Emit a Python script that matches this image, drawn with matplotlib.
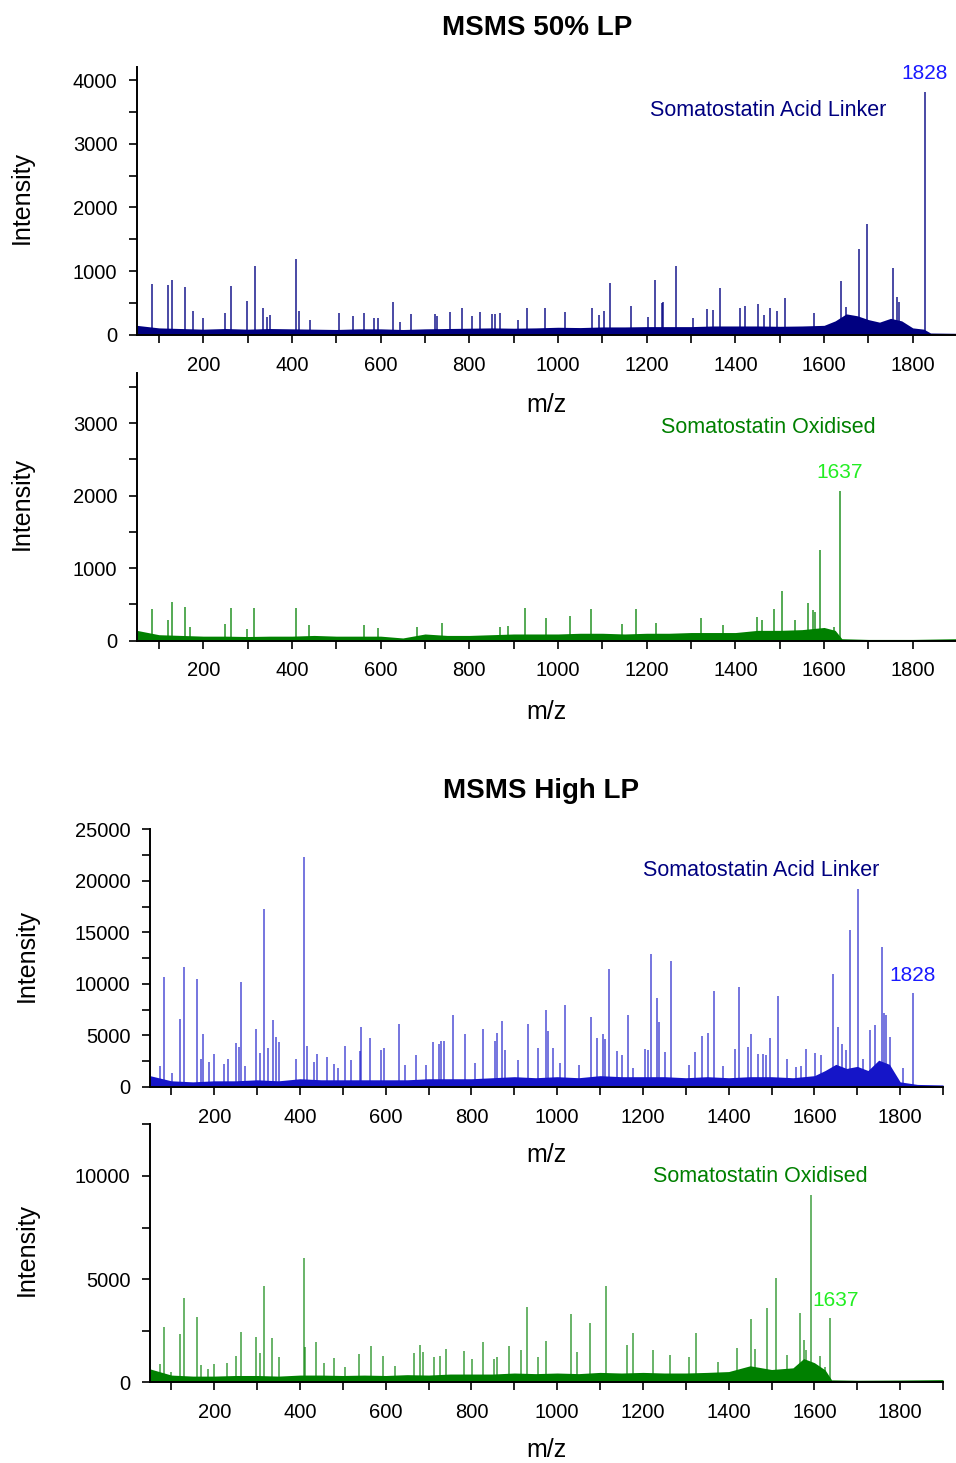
import matplotlib
matplotlib.use('Agg')
import matplotlib.pyplot as plt
from matplotlib.ticker import MultipleLocator

plt.rcParams['font.family'] = ['Liberation Sans', 'DejaVu Sans']

# peaks (m/z, intensity)

# MSMS 50% LP - Somatostatin Acid Linker
lp50_acid_mz = [85, 120, 129, 159, 176, 199, 250, 262, 298, 316, 335, 343, 350, 410, 416, 441,
                506, 538, 563, 586, 595, 628, 644, 668, 722, 727, 756, 784, 806, 823, 850, 858,
                870, 909, 929, 971, 1016, 1076, 1092, 1104, 1117, 1165, 1202, 1218, 1234, 1237,
                1265, 1304, 1337, 1350, 1365, 1410, 1421, 1450, 1464, 1478, 1494, 1512, 1578,
                1639, 1649, 1679, 1697, 1756, 1765, 1768, 1828]
lp50_acid_int = [794, 783, 862, 752, 370, 270, 339, 763, 532, 1077, 422, 281, 307, 1187, 370, 228,
                 339, 292, 339, 270, 270, 511, 207, 334, 323, 297, 354, 418, 302, 354, 323, 334,
                 339, 240, 418, 418, 360, 418, 318, 370, 815, 448, 286, 862, 497, 512,
                 1087, 260, 402, 392, 731, 418, 454, 491, 318, 418, 381, 579, 339,
                 846, 443, 1348, 1741, 1045, 600, 523, 3819]
lp50_acid_noise_mz = [50, 100, 150, 200, 250, 300, 350, 400, 450, 500, 550, 600, 650, 700, 750,
                      800, 850, 900, 950, 1000, 1050, 1100, 1150, 1200, 1250, 1300, 1350, 1400,
                      1450, 1500, 1550, 1600, 1625, 1650, 1675, 1700, 1725, 1750, 1775, 1800,
                      1825, 1840, 1900]
lp50_acid_noise_int = [150, 110, 100, 90, 100, 90, 100, 95, 90, 85, 95, 95, 85, 95, 100,
                       105, 110, 105, 110, 120, 115, 125, 125, 130, 130, 130, 140, 140,
                       140, 135, 140, 150, 220, 330, 300, 240, 200, 260, 220, 110,
                       90, 30, 25]

# MSMS 50% LP - Somatostatin Oxidised
lp50_ox_mz = [85, 120, 129, 159, 171, 250, 262, 298, 315, 409, 439, 563, 595, 681, 739, 869,
              887, 926, 972, 1027, 1074, 1145, 1176, 1221, 1322, 1373, 1449, 1461, 1488, 1506,
              1534, 1563, 1574, 1580, 1591, 1623, 1637]
lp50_ox_int = [431, 283, 532, 463, 180, 228, 444, 155, 444, 453, 214, 214, 168, 190, 246, 190,
               200, 444, 306, 339, 440, 228, 440, 237, 315, 214, 329, 283, 431, 688,
               283, 513, 421, 398, 1250, 190, 2069]
lp50_ox_noise_mz = [50, 100, 150, 200, 250, 300, 350, 400, 450, 500, 550, 600, 650, 700, 750,
                    800, 850, 900, 950, 1000, 1050, 1100, 1150, 1200, 1250, 1300, 1350, 1400,
                    1450, 1500, 1550, 1600, 1625, 1640, 1700, 1800, 1900]
lp50_ox_noise_int = [140, 80, 70, 60, 60, 55, 60, 60, 70, 60, 60, 60, 35, 90, 70,
                     70, 80, 90, 90, 90, 100, 100, 90, 100, 100, 110, 110, 110,
                     140, 140, 150, 180, 140, 25, 15, 15, 25]

# MSMS High LP - Somatostatin Acid Linker
high_acid_mz = [74, 84, 101, 120, 129, 159, 170, 175, 187, 199, 222, 233, 250, 258, 262, 271,
                297, 306, 316, 326, 336, 343, 351, 391, 409, 417, 432, 440, 462, 479, 489, 506,
                520, 539, 542, 564, 588, 596, 630, 645, 670, 694, 711, 724, 730, 735, 757, 785,
                809, 826, 854, 860, 871, 878, 908, 932, 956, 973, 979, 991, 1007, 1019, 1051,
                1079, 1092, 1107, 1112, 1121, 1139, 1151, 1166, 1178, 1205, 1213, 1220, 1234,
                1238, 1251, 1266, 1307, 1322, 1339, 1351, 1366, 1386, 1414, 1423, 1445, 1453,
                1468, 1480, 1488, 1497, 1516, 1535, 1557, 1568, 1581, 1602, 1615, 1643, 1655,
                1665, 1673, 1682, 1701, 1713, 1729, 1742, 1758, 1762, 1768, 1777, 1807, 1829]
high_acid_int = [2037, 10640, 1326, 6597, 11641, 10507, 2684, 5110, 2393, 3169, 2231, 2684, 4301,
                 3848, 10186, 2037, 5595, 3266, 17237, 3783, 6532, 4883, 4334, 2684, 22280, 4010,
                 2458, 3169, 2942, 2199, 1811, 3977, 2619, 3525, 5854, 4754, 3590, 3751, 6112,
                 2134, 3104, 2166, 4398, 4172, 4495, 4463, 6953, 5110, 2296, 5627, 4463, 5207,
                 6370, 3590, 2619, 6145, 3816, 7470, 5433, 3751, 2361, 7955, 2134,
                 6759, 4786, 5110, 4625, 11448, 3525, 3104, 6953, 1876, 3687, 3590, 12871, 8601,
                 6338, 3363, 12191, 2134, 3363, 4948, 5207, 9345, 2037, 3687, 9733, 3848, 5110,
                 3169, 3169, 3104, 4722, 8828, 2684, 1973, 2069, 3687, 3266, 3104, 10963, 5854,
                 4172, 3590, 15231, 19179, 2749, 5530, 6015, 13611, 7147, 6985, 4883, 1811, 9151]
high_acid_noise_mz = [50, 100, 150, 200, 250, 300, 350, 400, 450, 500, 550, 600, 650, 700, 750,
                      800, 850, 900, 950, 1000, 1050, 1100, 1150, 1200, 1250, 1300, 1350, 1400,
                      1450, 1500, 1550, 1600, 1625, 1650, 1675, 1700, 1725, 1750, 1775, 1800,
                      1840, 1900]
high_acid_noise_int = [1100, 600, 500, 600, 600, 700, 600, 800, 700, 700, 700, 700, 700, 800, 800,
                       800, 900, 1000, 900, 1000, 900, 1100, 1000, 1000, 1000, 900, 1000, 900,
                       1000, 1000, 900, 1100, 1600, 2200, 1800, 2000, 1600, 2600, 2200, 500,
                       250, 200]

# MSMS High LP - Somatostatin Oxidised
high_ox_mz = [74, 84, 100, 120, 129, 159, 170, 186, 199, 231, 250, 262, 297, 306, 315, 334, 350,
              409, 412, 438, 456, 479, 506, 538, 566, 593, 622, 667, 681, 687, 712, 727, 741,
              783, 801, 828, 852, 860, 888, 916, 930, 955, 974, 1032, 1046, 1077, 1114, 1163,
              1178, 1224, 1263, 1308, 1324, 1376, 1420, 1451, 1462, 1490, 1510, 1537, 1566,
              1575, 1581, 1592, 1614, 1624, 1637]
high_ox_int = [872, 2694, 484, 2340, 4070, 3178, 840, 630, 872, 953, 1274, 2437, 2180, 1420, 4666,
               2163, 1210, 6037, 1694, 1937, 921, 1180, 727, 1357, 1760, 1274, 790, 1403, 1808,
               1452, 1242, 1274, 1613, 1533, 1113, 1969, 1130, 1242, 1760, 1565, 3633, 1210,
               2018, 3309, 1485, 2858, 4666, 1808, 2374, 1565, 1323, 1242, 2374, 1000, 1678,
               3052, 1597, 3585, 5039, 1323, 3372, 2050, 1565, 9060, 1291, 742, 3100]
high_ox_noise_mz = [50, 100, 150, 200, 250, 300, 350, 400, 450, 500, 550, 600, 650, 700, 750,
                    800, 850, 900, 950, 1000, 1050, 1100, 1150, 1200, 1250, 1300, 1350, 1400,
                    1450, 1500, 1550, 1575, 1600, 1625, 1640, 1700, 1800, 1900]
high_ox_noise_int = [650, 350, 300, 300, 330, 330, 300, 350, 350, 330, 350, 330, 370, 350, 400,
                     400, 400, 450, 420, 450, 420, 480, 450, 480, 450, 450, 480, 520,
                     800, 620, 700, 1150, 950, 600, 120, 100, 110, 130]

NAVY = '#000080'
BLUE = '#1515c8'
GREEN = '#008000'

W, H = 956, 1463


def px_box(left, right, top, bottom):
    '''Convert pixel box of the reference to figure fractions'''
    return [left / W, 1 - bottom / H, (right - left) / W, (bottom - top) / H]


def draw_panel(ax, mz, inten, noise_mz, noise_int, color, ytop, ymajor, alpha):
    '''Draws one stick spectrum with its noise floor'''
    ax.fill_between(noise_mz, 0, noise_int, color=color, lw=0)
    ax.vlines(mz, 0, inten, color=color, lw=1.1, alpha=alpha)

    ax.set_xlim(50, 1900)
    ax.set_ylim(0, ytop)
    ax.xaxis.set_major_locator(MultipleLocator(200))
    ax.xaxis.set_minor_locator(MultipleLocator(100))
    ax.yaxis.set_major_locator(MultipleLocator(ymajor))
    ax.yaxis.set_minor_locator(MultipleLocator(ymajor / 2))
    ax.tick_params(which='both', direction='out', length=6, width=1.2)
    ax.tick_params(axis='x', which='major', labelsize=14.5, pad=9)
    ax.tick_params(axis='y', which='major', labelsize=14.5, pad=8)
    for side in ['top', 'right']:
        ax.spines[side].set_visible(False)
    for side in ['left', 'bottom']:
        ax.spines[side].set_linewidth(1.4)
    ax.set_xticks([200, 400, 600, 800, 1000, 1200, 1400, 1600, 1800])


fig = plt.figure(figsize=(W / 100, H / 100), dpi=100)

ax1 = fig.add_axes(px_box(136.8, 957.1, 67.3, 334.9))
draw_panel(ax1, lp50_acid_mz, lp50_acid_int, lp50_acid_noise_mz, lp50_acid_noise_int,
           NAVY, 4200, 1000, 0.9)
ax1.text(1826, 4096, '1828', color='#1a1aff', fontsize=15, ha='center', va='center')
ax1.text(1474, 3515, 'Somatostatin Acid Linker', color=NAVY, fontsize=15.5,
         ha='center', va='center')

ax2 = fig.add_axes(px_box(136.8, 957.1, 372.6, 640.5))
draw_panel(ax2, lp50_ox_mz, lp50_ox_int, lp50_ox_noise_mz, lp50_ox_noise_int,
           GREEN, 3700, 1000, 0.85)
ax2.text(1634, 2327, '1637', color='#22ee22', fontsize=15, ha='center', va='center')
ax2.text(1474, 2935, 'Somatostatin Oxidised', color=GREEN, fontsize=15.5,
         ha='center', va='center')

ax3 = fig.add_axes(px_box(149.9, 943.0, 829.3, 1087.0))
draw_panel(ax3, high_acid_mz, high_acid_int, high_acid_noise_mz, high_acid_noise_int,
           BLUE, 25000, 5000, 0.75)
ax3.text(1828, 10865, '1828', color='#1a1aff', fontsize=15, ha='center', va='center')
ax3.text(1475, 20955, 'Somatostatin Acid Linker', color=NAVY, fontsize=15.5,
         ha='center', va='center')

ax4 = fig.add_axes(px_box(149.9, 943.0, 1124.3, 1382.3))
draw_panel(ax4, high_ox_mz, high_ox_int, high_ox_noise_mz, high_ox_noise_int,
           GREEN, 12500, 5000, 0.75)
ax4.text(1649, 3940, '1637', color='#22ee22', fontsize=15, ha='center', va='center')
ax4.text(1475, 9947, 'Somatostatin Oxidised', color=GREEN, fontsize=15.5,
         ha='center', va='center')

# titles and axis labels placed as in the reference
fig.text(537 / W, 1 - 28 / H, 'MSMS 50% LP', fontsize=20, weight='bold', ha='center', va='center')
fig.text(541 / W, 1 - 791 / H, 'MSMS High LP', fontsize=20, weight='bold', ha='center', va='center')

for yc in [405, 712, 1155, 1450]:
    fig.text(546 / W, 1 - yc / H, 'm/z', fontsize=18, ha='center', va='center')

for xc, yc in [(22, 198), (22, 503), (27, 955), (27, 1250)]:
    fig.text(xc / W, 1 - yc / H, 'Intensity', fontsize=18, rotation=90, ha='center', va='center')

fig.savefig('out.png', dpi=100)
